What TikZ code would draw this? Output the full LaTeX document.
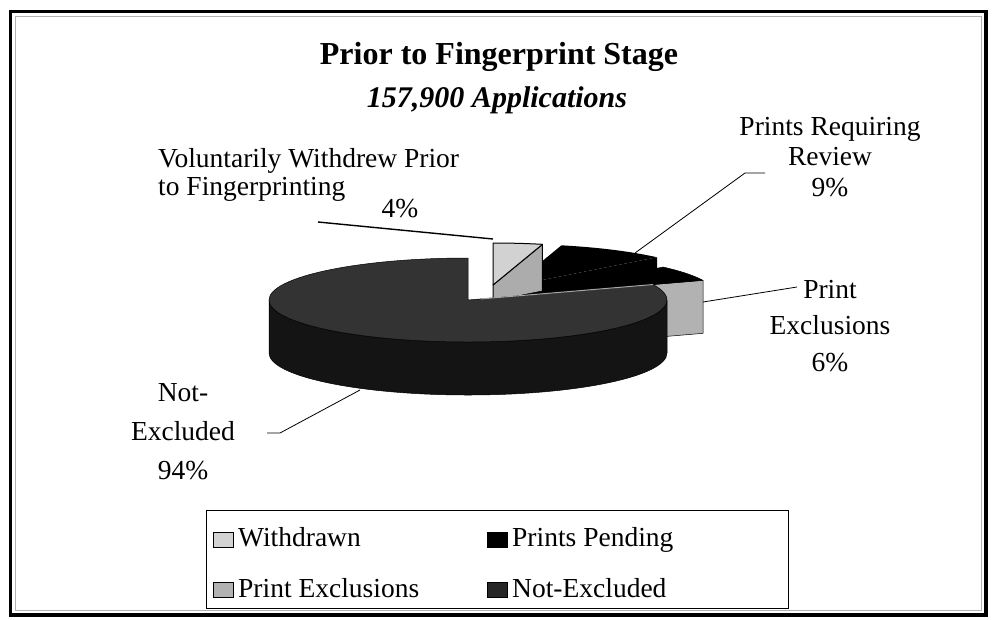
\documentclass[tikz,border=0pt]{standalone}
\usepackage{fontspec}
\setmainfont{Liberation Serif}
\usetikzlibrary{calc}

% pie sizes (in px of the page)
\def\pieRx{199}
\def\pieRy{42}
\def\pieDep{53}

\begin{document}
\begin{tikzpicture}[x=1pt,y=-1pt,
  lbl/.style={inner sep=0pt,font=\fontsize{27.5}{30.5}\selectfont},
  leader/.style={draw=black,line width=0.8pt},
  keybox/.style={draw=black,line width=0.6pt,minimum width=20pt,minimum height=15pt,inner sep=0pt},
  face/.style={draw=black,line width=0.5pt,line join=round}]
\useasboundingbox (0,0) rectangle (992,619);
% frame
\draw[line width=3.5pt] (10.5,11.5) rectangle (986,615);
\draw[line width=0.6pt,gray!60] (15.5,16.5) rectangle (981,610);
% titles
\node[inner sep=0pt,anchor=base,font=\fontsize{32}{36}\selectfont\bfseries] (title) at (499,64) {Prior to Fingerprint Stage};
\node[inner sep=0pt,anchor=base,font=\fontsize{30}{34}\selectfont\bfseries\itshape] (subtitle) at (497,107) {157,900 Applications};
% slice centres
\coordinate (c0) at (468,300);
\coordinate (c1) at (493,285);
\coordinate (c2) at (512,286);
\coordinate (c3) at (518,295.8);
% prints pending
\fill[black] (c2) -- ($(c2)+({\pieRx*cos(75.6)},{-\pieRy*sin(75.6)})$)
  arc[start angle=-75.6,end angle=-43.2,x radius=\pieRx,y radius=\pieRy] -- cycle;
\fill[black] (c2) -- ($(c2)+({\pieRx*cos(43.2)},{-\pieRy*sin(43.2)})$) -- ++(0,\pieDep)
  -- ($(c2)+(0,\pieDep)$) -- cycle;
% withdrawn
\filldraw[face,fill=gray!65,line width=1pt] (c1) -- ($(c1)+({\pieRx*cos(75.6)},{-\pieRy*sin(75.6)})$)
  -- ++(0,\pieDep) -- ($(c1)+(0,\pieDep)$) -- cycle;
\filldraw[face,fill=gray!35,line width=1pt] (c1) -- ($(c1)+(0,-\pieRy)$)
  arc[start angle=-90,end angle=-75.6,x radius=\pieRx,y radius=\pieRy] -- cycle;
% print exclusions
\filldraw[face,fill=gray!60] (c3) -- ($(c3)+({\pieRx*cos(21.6)},{-\pieRy*sin(21.6)})$)
  -- ++(0,\pieDep) -- ($(c3)+(0,\pieDep)$) -- cycle;
\filldraw[face,fill=black] (c3) -- ($(c3)+({\pieRx*cos(43.2)},{-\pieRy*sin(43.2)})$)
  arc[start angle=-43.2,end angle=-21.6,x radius=\pieRx,y radius=\pieRy] -- cycle;
% not-excluded
\filldraw[face,fill=black!92] ($(c0)+(\pieRx,0)$) arc[start angle=0,end angle=180,x radius=\pieRx,y radius=\pieRy]
  -- ++(0,\pieDep) arc[start angle=180,end angle=0,x radius=\pieRx,y radius=\pieRy] -- cycle;
\filldraw[face,fill=black!80] (c0) -- ($(c0)+(0,-\pieRy)$)
  arc[start angle=-90,end angle=-381.6,x radius=\pieRx,y radius=\pieRy] -- cycle;
\draw[gray!70,line width=1pt] ($(c0)!0.25!(c3)$) -- ($(c0)+({\pieRx*cos(21.6)},{-\pieRy*sin(21.6)})$);
% labels
\node[lbl,anchor=north west,align=left,font=\fontsize{27.5}{28}\selectfont] (wLab) at (158,148) {Voluntarily Withdrew Prior\\to Fingerprinting};
\node[lbl,anchor=base] (wPct) at (400,217) {4\%};
\node[lbl,anchor=north,align=center] (pLab) at (830,117) {Prints Requiring\\Review\\9\%};
\node[lbl,anchor=north,align=center,font=\fontsize{27.5}{36.5}\selectfont] (eLab) at (830,280) {Print\\Exclusions\\6\%};
\node[lbl,anchor=north,align=center,font=\fontsize{27.5}{39}\selectfont] (nLab) at (183,383) {Not-\\Excluded\\94\%};
% leaders
\coordinate (wA) at (318,222);
\coordinate (wB) at (493,239);
\draw[leader,line width=1.4pt] (wA) -- (wB);
\coordinate (pA) at (635,253);
\coordinate (pB) at (745,173);
\coordinate (pC) at (765,173);
\draw[leader] (pA) -- (pB) -- (pC);
\coordinate (eA) at (703,302);
\coordinate (eB) at (797,287);
\draw[leader] (eA) -- (eB);
\coordinate (nA) at (360,390);
\coordinate (nB) at (280,433);
\coordinate (nC) at (267,433);
\draw[leader] (nA) -- (nB) -- (nC);
% legend
\draw[line width=0.8pt] (206,510) rectangle (788,608);
\node[keybox,fill=gray!35] (kW) at (223,540) {};
\node[lbl,anchor=base west] (tW) at (238,546) {Withdrawn};
\node[keybox,fill=black] (kP) at (497,540) {};
\node[lbl,anchor=base west] (tP) at (512,546) {Prints Pending};
\node[keybox,fill=gray!60] (kE) at (223,590) {};
\node[lbl,anchor=base west] (tE) at (238,597) {Print Exclusions};
\node[keybox,fill=black!85] (kN) at (497,590) {};
\node[lbl,anchor=base west] (tN) at (512,597) {Not-Excluded};
\end{tikzpicture}
\end{document}
